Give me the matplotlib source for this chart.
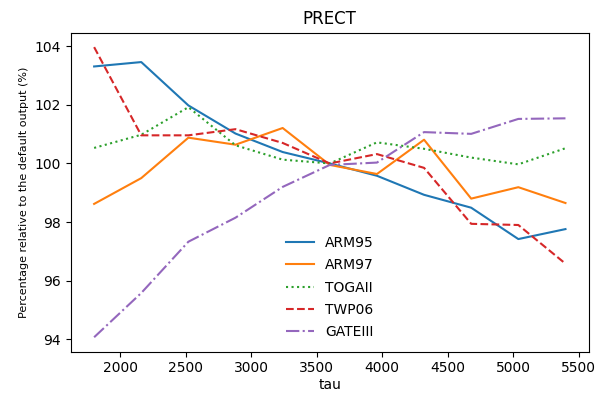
import matplotlib
matplotlib.use('Agg')

import matplotlib.pyplot as plt

tau = [1800, 2160, 2520, 2880, 3240, 3600, 3960, 4320, 4680, 5040, 5400]

arm95 = [103.31, 103.46, 101.98, 101.02, 100.39, 100.0, 99.58, 98.93, 98.49, 97.42, 97.76]
arm97 = [98.62, 99.50, 100.88, 100.64, 101.21, 99.95, 99.64, 100.81, 98.80, 99.19, 98.65]
togaii = [100.53, 100.98, 101.92, 100.62, 100.13, 100.0, 100.72, 100.50, 100.20, 99.97, 100.52]
twp06 = [103.97, 100.96, 100.96, 101.17, 100.70, 100.0, 100.32, 99.85, 97.94, 97.90, 96.58]
gateiii = [94.07, 95.58, 97.33, 98.15, 99.20, 99.95, 100.03, 101.07, 101.01, 101.52, 101.54]

series = [
    ("ARM95", arm95, "-"),
    ("ARM97", arm97, "-"),
    ("TOGAII", togaii, ":"),
    ("TWP06", twp06, "--"),
    ("GATEIII", gateiii, "-."),
]

fig, ax = plt.subplots(figsize=(5.98, 3.93), dpi=100)
fig.subplots_adjust(left=0.118, right=0.985, top=0.917, bottom=0.105)

for name, vals, ls in series:
    ax.plot(tau, vals, linestyle=ls, label=name, linewidth=1.5)

ax.set_title("PRECT")
ax.set_xlabel("tau", labelpad=2)
ax.set_ylabel("Percentage relative to the default output (%)", fontsize=8)
ax.legend(frameon=False, loc="lower center", bbox_to_anchor=(0.5, 0.0),
          labelspacing=0.6)

fig.savefig("out.png")
